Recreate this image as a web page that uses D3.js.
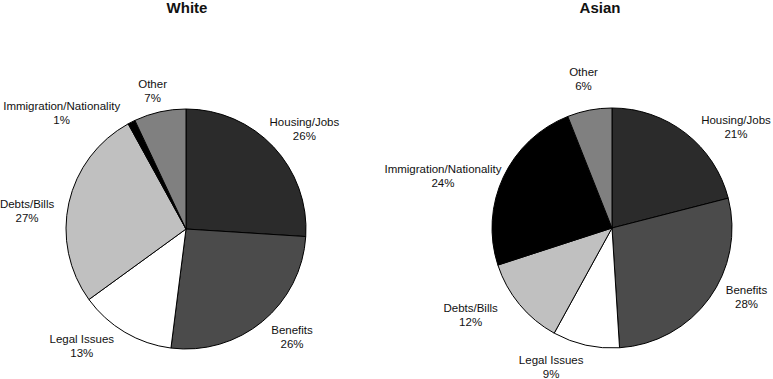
<!DOCTYPE html>
<html>
<head>
<meta charset="utf-8">
<script src="https://cdn.jsdelivr.net/npm/d3@7"></script>
<style>
  body { margin: 0; background: #fff; }
  text { font-family: "Liberation Sans", Arial, sans-serif; fill: #111; }
</style>
</head>
<body>
<div id="chart"></div>
<script>
'use strict';

// Data
var categories = ['Housing/Jobs', 'Benefits', 'Legal Issues', 'Debts/Bills', 'Immigration/Nationality', 'Other'];
var whiteValues = [26, 26, 13, 27, 1, 7];
var asianValues = [21, 28, 9, 12, 24, 6];
var chartTitles = ['White', 'Asian'];

// Styles
var sliceColors = ['#2b2b2b', '#4b4b4b', '#ffffff', '#c0c0c0', '#000000', '#808080'];

// Layout parameters
var width = 773;
var height = 379;
var radius = 120;
var pies = [
  {title: chartTitles[0], values: whiteValues, cx: 186, cy: 229, titleX: 187,
   // label nudges: [angle offset in degrees, label radius]
   labelNudge: [[3, 155], [-5, 151], [11, 157], [-6, 160], [-20, 170], [-1, 142]]},
  {title: chartTitles[1], values: asianValues, cx: 612, cy: 228, titleX: 600,
   labelNudge: [[13, 160], [-9, 151], [11, 152], [8, 166], [-8, 177], [0, 152]]}
];

var svg = d3.select('#chart').append('svg')
  .attr('width', width)
  .attr('height', height);

var pie = d3.pie().sort(null).value(function(d) { return d; });
var arc = d3.arc().innerRadius(0).outerRadius(radius);
var color = d3.scaleOrdinal().domain(categories).range(sliceColors);

pies.forEach(function(p) {
  svg.append('text')
    .attr('x', p.titleX)
    .attr('y', 13)
    .attr('text-anchor', 'middle')
    .style('font-size', '15px')
    .style('font-weight', 'bold')
    .text(p.title);

  var g = svg.append('g')
    .attr('transform', 'translate(' + p.cx + ',' + p.cy + ')');

  var arcs = pie(p.values);

  g.selectAll('path')
    .data(arcs)
    .enter().append('path')
    .attr('d', arc)
    .attr('fill', function(d, i) { return color(categories[i]); })
    .attr('stroke', '#000')
    .attr('stroke-width', 1)
    .attr('stroke-linejoin', 'round');

  var labels = g.selectAll('text.label')
    .data(arcs)
    .enter().append('text')
    .attr('class', 'label')
    .attr('text-anchor', 'middle')
    .style('font-size', '11.5px')
    .attr('transform', function(d, i) {
      var a = (d.startAngle + d.endAngle) / 2 + p.labelNudge[i][0] * Math.PI / 180;
      var r = p.labelNudge[i][1];
      return 'translate(' + (r * Math.sin(a)) + ',' + (-r * Math.cos(a)) + ')';
    });

  labels.append('tspan')
    .attr('x', 0)
    .attr('y', -3)
    .text(function(d, i) { return categories[i]; });
  labels.append('tspan')
    .attr('x', 0)
    .attr('y', 11)
    .text(function(d) { return d.value + '%'; });
});
</script>
</body>
</html>
